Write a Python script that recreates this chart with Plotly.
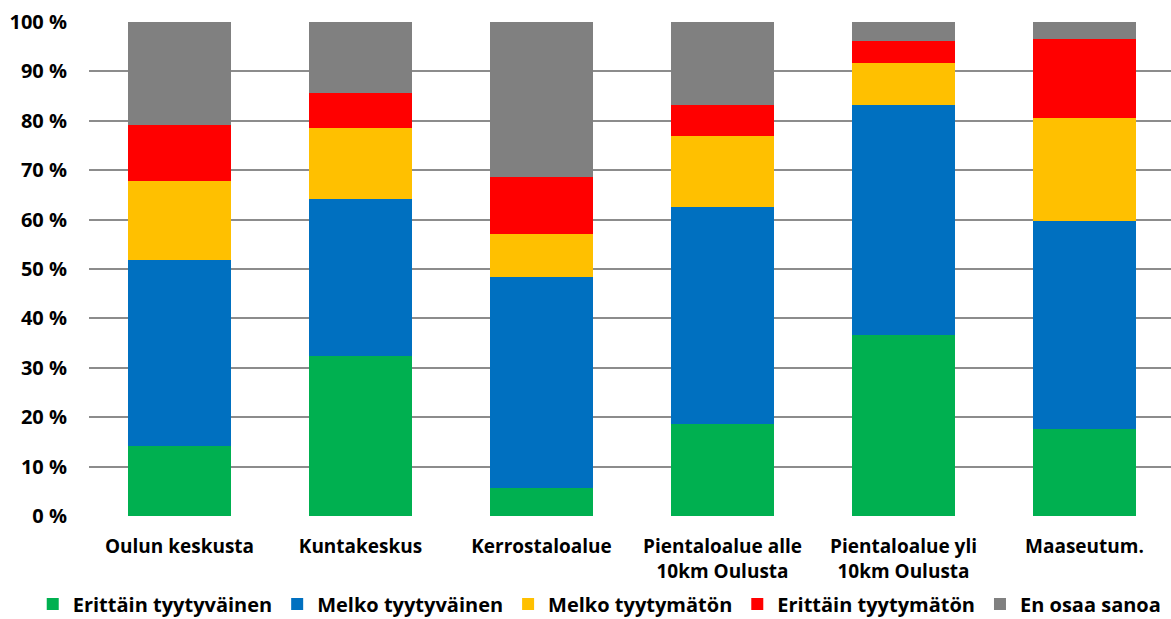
import plotly.graph_objects as go

categories = [
    "Oulun keskusta",
    "Kuntakeskus",
    "Kerrostaloalue",
    "Pientaloalue alle<br>10km Oulusta",
    "Pientaloalue yli<br>10km Oulusta",
    "Maaseutum.",
]

erittain_tyytyvainen = [14.2, 32.4, 5.7, 18.6, 36.6, 17.6]
melko_tyytyvainen = [37.6, 31.8, 42.7, 44.0, 46.6, 42.1]
melko_tyytymaton = [16.0, 14.3, 8.7, 14.3, 8.5, 20.9]
erittain_tyytymaton = [11.3, 7.1, 11.5, 6.3, 4.5, 16.0]
en_osaa_sanoa = [20.9, 14.4, 31.4, 16.8, 3.8, 3.4]

series = [
    ("Erittäin tyytyväinen", erittain_tyytyvainen, "#00B050"),
    ("Melko tyytyväinen", melko_tyytyvainen, "#0070C0"),
    ("Melko tyytymätön", melko_tyytymaton, "#FFC000"),
    ("Erittäin tyytymätön", erittain_tyytymaton, "#FF0000"),
    ("En osaa sanoa", en_osaa_sanoa, "#808080"),
]

tick_values = list(range(0, 101, 10))
tick_labels = [f"{v} %" for v in tick_values]

font_family = "'Open Sans', Lato, sans-serif"


def bold_font(size):
    return dict(family=font_family, size=size, color="black", weight="bold")


fig = go.Figure()
for name, values, color in series:
    fig.add_trace(
        go.Bar(
            name=name,
            x=categories,
            y=values,
            marker=dict(color=color, line=dict(width=0)),
            width=0.57,
        )
    )

fig.update_layout(
    barmode="stack",
    width=1171,
    height=619,
    margin=dict(l=89, r=0, t=22, b=103, autoexpand=False),
    paper_bgcolor="white",
    plot_bgcolor="white",
    font=bold_font(19),
    xaxis=dict(
        range=[-0.5, 5.478],
        showline=False,
        showgrid=False,
        ticks="",
        automargin=False,
        ticklabelstandoff=17,
        tickfont=bold_font(19),
    ),
    yaxis=dict(
        range=[0, 100],
        tickvals=tick_values,
        ticktext=tick_labels,
        showgrid=True,
        gridcolor="#8C8C8C",
        gridwidth=2,
        zeroline=False,
        showline=False,
        ticks="",
        automargin=False,
        ticklabelstandoff=21,
        tickfont=bold_font(20),
    ),
    legend=dict(
        orientation="h",
        x=-0.052,
        xanchor="left",
        y=-0.178,
        yanchor="middle",
        font=bold_font(20),
        traceorder="normal",
        itemwidth=30,
    ),
    bargap=0.43,
)

fig.write_html("out.html")
